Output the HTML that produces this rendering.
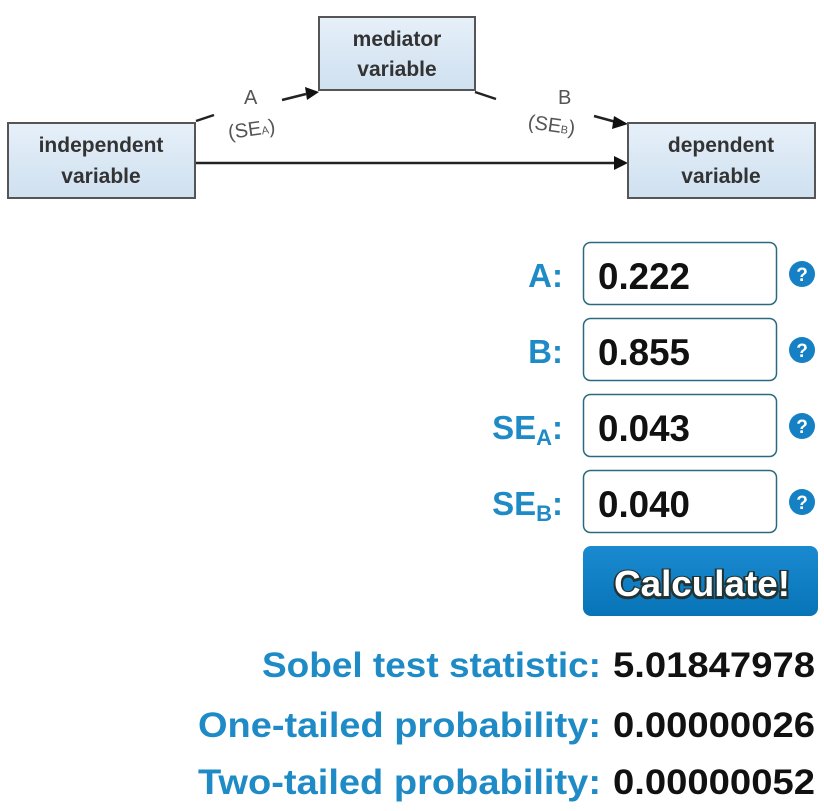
<!DOCTYPE html>
<html><head><meta charset="utf-8"><style>
html,body{margin:0;padding:0;background:#fff;width:824px;height:811px;overflow:hidden}
svg{display:block}
</style></head><body>
<svg width="824" height="811" viewBox="0 0 824 811" xmlns="http://www.w3.org/2000/svg" font-family="Liberation Sans, sans-serif">
<defs>
<linearGradient id="bx" x1="0" y1="0" x2="0" y2="1"><stop offset="0" stop-color="#e6f0f9"/><stop offset="1" stop-color="#cfe0f0"/></linearGradient>
<linearGradient id="bt" x1="0" y1="0" x2="0" y2="1"><stop offset="0" stop-color="#1a8ad0"/><stop offset="1" stop-color="#0874b8"/></linearGradient>
</defs>
<g stroke="#222" stroke-width="2.5" fill="none">
<line x1="196" y1="163" x2="616" y2="163"/>
<path d="M196 121 L214 115"/>
<path d="M282 100 L306 94"/>
<path d="M475 92 L496 99"/>
<path d="M594 116 L616 122"/>
</g>
<g fill="#111">
<polygon points="628,163 614,156 614,170"/>
<polygon points="319,92 305,87 307,100"/>
<polygon points="628,124 614,116 612,129"/>
</g>
<g fill="#555" font-size="20">
<text x="244" y="104">A</text>
<text x="228" y="136" transform="rotate(-8 250 130)">(SE<tspan font-size="11">A</tspan>)</text>
<text x="558" y="104">B</text>
<text x="528" y="132" transform="rotate(8 555 125)">(SE<tspan font-size="11">B</tspan>)</text>
</g>
<g stroke="#555" stroke-width="2" fill="url(#bx)">
<rect x="319" y="17" width="156" height="73"/>
<rect x="8" y="123" width="187" height="75"/>
<rect x="628" y="123" width="187" height="75"/>
</g>
<g fill="#333" font-size="21" font-weight="bold" text-anchor="middle">
<text x="397" y="46">mediator</text><text x="397" y="76">variable</text>
<text x="101" y="152">independent</text><text x="101" y="183">variable</text>
<text x="721" y="152">dependent</text><text x="721" y="183">variable</text>
</g>
<g stroke="#2a6a80" stroke-width="1.5" fill="#fff">
<rect x="583.5" y="242.5" width="193" height="62" rx="7"/>
<rect x="583.5" y="318.5" width="193" height="62" rx="7"/>
<rect x="583.5" y="394.5" width="193" height="62" rx="7"/>
<rect x="583.5" y="470.5" width="193" height="62" rx="7"/>
</g>
<g fill="#111" font-size="37" font-weight="bold">
<text x="598" y="289" textLength="92" lengthAdjust="spacingAndGlyphs">0.222</text>
<text x="598" y="365" textLength="92" lengthAdjust="spacingAndGlyphs">0.855</text>
<text x="598" y="441" textLength="92" lengthAdjust="spacingAndGlyphs">0.043</text>
<text x="598" y="517" textLength="92" lengthAdjust="spacingAndGlyphs">0.040</text>
</g>
<g fill="#1f8bc6" font-size="33" font-weight="bold" text-anchor="end">
<text x="563" y="287">A:</text>
<text x="563" y="363">B:</text>
<text x="563" y="439">SE<tspan font-size="22" dy="6">A</tspan><tspan dy="-6">:</tspan></text>
<text x="563" y="515">SE<tspan font-size="22" dy="6">B</tspan><tspan dy="-6">:</tspan></text>
</g>
<g>
<circle cx="802" cy="274" r="13" fill="#1580c4"/><circle cx="802" cy="350" r="13" fill="#1580c4"/>
<circle cx="802" cy="426" r="13" fill="#1580c4"/><circle cx="802" cy="502" r="13" fill="#1580c4"/>
<g fill="#fff" font-size="19" font-weight="bold" text-anchor="middle">
<text x="802" y="281">?</text><text x="802" y="357">?</text><text x="802" y="433">?</text><text x="802" y="509">?</text>
</g>
</g>
<rect x="583" y="546" width="235" height="70" rx="8" fill="url(#bt)"/>
<text x="702" y="597" text-anchor="middle" font-size="36" font-weight="bold" fill="#233" stroke="#233" stroke-width="4" textLength="176" lengthAdjust="spacingAndGlyphs">Calculate!</text>
<text x="702" y="596" text-anchor="middle" font-size="36" font-weight="bold" fill="#fff" textLength="176" lengthAdjust="spacingAndGlyphs">Calculate!</text>
<g fill="#1f8bc6" font-size="35" font-weight="bold">
<text x="262" y="677" textLength="339" lengthAdjust="spacingAndGlyphs">Sobel test statistic:</text>
<text x="198" y="737" textLength="403" lengthAdjust="spacingAndGlyphs">One-tailed probability:</text>
<text x="198" y="794" textLength="403" lengthAdjust="spacingAndGlyphs">Two-tailed probability:</text>
</g>
<g fill="#111" font-size="35" font-weight="bold">
<text x="613" y="677" textLength="202" lengthAdjust="spacingAndGlyphs">5.01847978</text>
<text x="613" y="737" textLength="202" lengthAdjust="spacingAndGlyphs">0.00000026</text>
<text x="613" y="794" textLength="202" lengthAdjust="spacingAndGlyphs">0.00000052</text>
</g>
</svg>
</body></html>
